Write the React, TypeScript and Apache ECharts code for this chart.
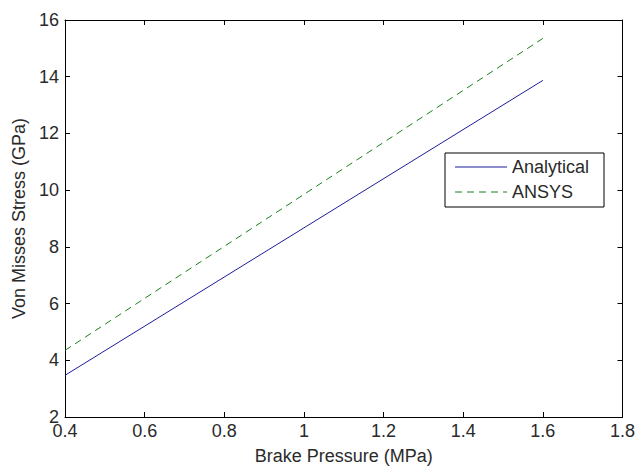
import React, { useEffect, useRef } from "react";
import * as echarts from "echarts";

const pressure = [0.4, 1.0, 1.6];
const analytical = [3.47, 8.67, 13.87];
const ansys = [4.35, 9.85, 15.35];
const seriesNames = ["Analytical", "ANSYS"];
const colors = ["#1c1c9c", "#1a801a"];

export default function App() {
  const ref = useRef<HTMLDivElement>(null);
  useEffect(() => {
    const chart = echarts.init(ref.current!, null, { renderer: "svg" });
    const font = "Liberation Sans, Arial, sans-serif";
    const fs = 18;
    const txt = "#2a2a2a";
    const axisCommon = {
      axisLine: { show: true, lineStyle: { color: "#000", width: 1 } },
      axisTick: { show: true, inside: true, length: 5, lineStyle: { color: "#000" } },
      splitLine: { show: false },
    };
    const lx = 445, ly = 153, lw = 159, lh = 54;
    chart.setOption({
      animation: false,
      backgroundColor: "#fff",
      grid: { left: 65, right: 14, top: 20, bottom: 47, containLabel: false },
      graphic: [
        {
          type: "rect",
          shape: { x: lx, y: ly, width: lw, height: lh },
          style: { fill: "#fff", stroke: "#000", lineWidth: 1 },
          z: 100,
        },
        {
          type: "line",
          shape: { x1: lx + 10, y1: ly + 14, x2: lx + 62, y2: ly + 14 },
          style: { stroke: colors[0], lineWidth: 1 },
          z: 101,
        },
        {
          type: "line",
          shape: { x1: lx + 10, y1: ly + 39, x2: lx + 62, y2: ly + 39 },
          style: { stroke: colors[1], lineWidth: 1, lineDash: [7, 5] },
          z: 101,
        },
        {
          type: "text",
          x: lx + 67,
          y: ly + 14,
          style: { text: seriesNames[0], fontSize: fs, fill: txt, fontFamily: font, verticalAlign: "middle" },
          z: 101,
        },
        {
          type: "text",
          x: lx + 67,
          y: ly + 39,
          style: { text: seriesNames[1], fontSize: fs, fill: txt, fontFamily: font, verticalAlign: "middle" },
          z: 101,
        },
      ],
      xAxis: [
        {
          type: "value",
          min: 0.4,
          max: 1.8,
          interval: 0.2,
          name: "Brake Pressure (MPa)",
          nameLocation: "middle",
          nameGap: 30,
          nameTextStyle: { fontSize: fs, color: txt, fontFamily: font },
          axisLabel: { fontSize: fs, color: txt, fontFamily: font, margin: 5, lineHeight: 18 },
          ...axisCommon,
        },
        {
          type: "value",
          position: "top",
          min: 0.4,
          max: 1.8,
          interval: 0.2,
          axisLabel: { show: false },
          ...axisCommon,
        },
      ],
      yAxis: [
        {
          type: "value",
          min: 2,
          max: 16,
          interval: 2,
          name: "Von Misses Stress (GPa)",
          nameLocation: "middle",
          nameGap: 37,
          nameTextStyle: { fontSize: fs, color: txt, fontFamily: font },
          axisLabel: { fontSize: fs, color: txt, fontFamily: font, margin: 6, lineHeight: 18 },
          ...axisCommon,
        },
        {
          type: "value",
          position: "right",
          min: 2,
          max: 16,
          interval: 2,
          axisLabel: { show: false },
          ...axisCommon,
        },
      ],
      series: [
        {
          name: seriesNames[0],
          type: "line",
          data: pressure.map((p, i) => [p, analytical[i]]),
          symbol: "none",
          lineStyle: { color: colors[0], width: 1 },
        },
        {
          name: seriesNames[1],
          type: "line",
          data: pressure.map((p, i) => [p, ansys[i]]),
          symbol: "none",
          lineStyle: { color: colors[1], width: 1, type: [7, 5] },
        },
      ],
    });
    return () => chart.dispose();
  }, []);
  return <div ref={ref} style={{ width: 638, height: 470, position: "absolute", left: 0, top: 0 }} />;
}
